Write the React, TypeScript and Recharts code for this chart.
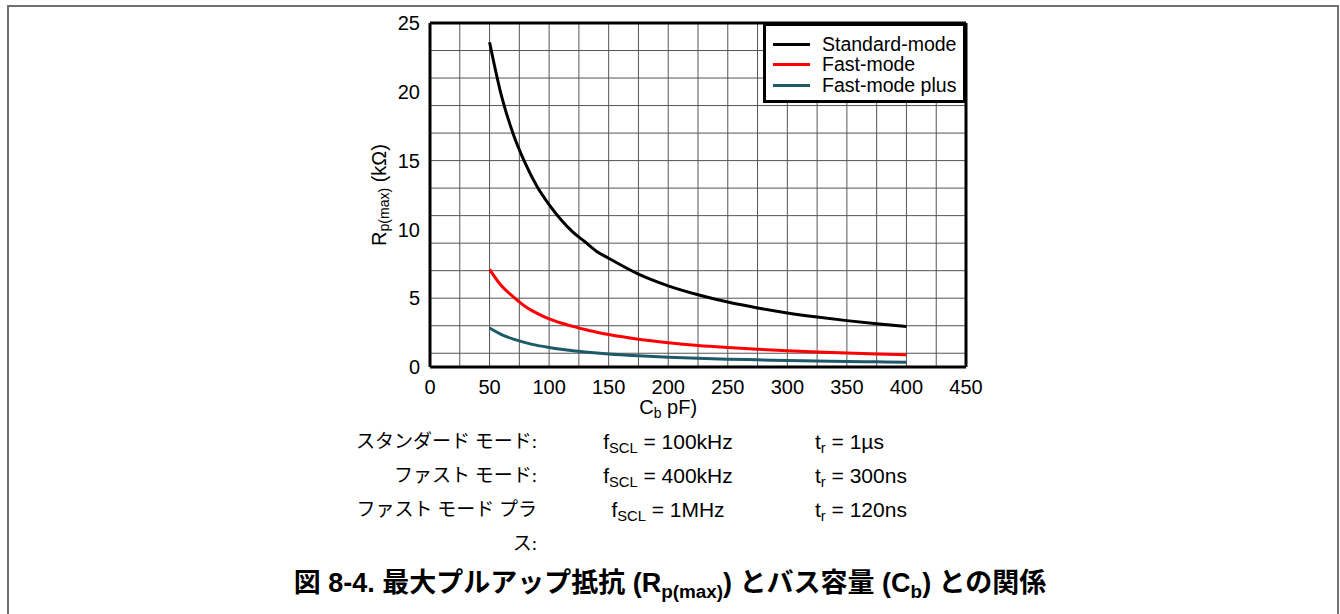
import React from "react";
import { LineChart, Line, XAxis, YAxis, CartesianGrid, ReferenceLine, Legend, Label } from "recharts";

// bus capacitance (pF) and max pull-up resistance (kΩ)
const capacitance = [50, 60, 70, 80, 90, 100, 110, 120, 130, 140, 150, 175, 200, 225, 250, 275, 300, 325, 350, 375, 400];
const standardMode = [23.6, 19.7, 16.9, 14.8, 13.1, 11.8, 10.7, 9.8, 9.1, 8.4, 7.9, 6.75, 5.9, 5.25, 4.72, 4.29, 3.93, 3.63, 3.37, 3.15, 2.95];
const fastMode = [7.1, 5.9, 5.1, 4.4, 3.9, 3.5, 3.2, 2.95, 2.72, 2.53, 2.36, 2.02, 1.77, 1.57, 1.42, 1.29, 1.18, 1.09, 1.01, 0.94, 0.89];
const fastModePlus = [2.83, 2.36, 2.02, 1.77, 1.57, 1.42, 1.29, 1.18, 1.09, 1.01, 0.94, 0.81, 0.71, 0.63, 0.57, 0.52, 0.47, 0.44, 0.4, 0.38, 0.35];

const seriesKeys = ["standard", "fast", "fastPlus"];
const seriesNames = ["Standard-mode", "Fast-mode", "Fast-mode plus"];
const seriesColors = ["#000000", "#ff0000", "#1c5a69"];

const xTicks = [0, 50, 100, 150, 200, 250, 300, 350, 400, 450];
const yTicks = [0, 5, 10, 15, 20, 25];
const xGrid = [0, 25, 50, 75, 100, 125, 150, 175, 200, 225, 250, 275, 300, 325, 350, 375, 400, 425, 450];
const yGrid = [0, 1, 2, 3, 4, 5, 6, 7, 8, 9, 10, 11, 12, 13, 14, 15, 16, 17, 18, 19, 20, 21, 22, 23, 24, 25];

const modeLabels = ["スタンダード モード:", "ファスト モード:", "ファスト モード プラ\nス:"];
const fsclValues = ["100kHz", "400kHz", "1MHz"];
const trValues = ["1µs", "300ns", "120ns"];

const data = capacitance.map((cb, i) => ({
    cb,
    standard: standardMode[i],
    fast: fastMode[i],
    fastPlus: fastModePlus[i],
}));

const SANS = '"Liberation Sans", Arial, sans-serif';
const JP = '"Liberation Serif", "Noto Sans CJK JP", serif';

const YTitle = (props: any) => {
    const { viewBox } = props;
    const cx = viewBox.x + 9;
    const cy = viewBox.y + viewBox.height / 2;
    return (
        <text x={cx} y={cy} transform={`rotate(-90, ${cx}, ${cy})`} textAnchor="middle" dominantBaseline="central"
            fontFamily={SANS} fontSize={20} fill="#000">
            R<tspan fontSize={14} dy={5}>p(max)</tspan><tspan dy={-5}> (kΩ)</tspan>
        </text>
    );
};

const XTitle = (props: any) => {
    const { viewBox } = props;
    const cx = viewBox.x + (viewBox.width * 400) / 450 / 2;
    const y = viewBox.y + 47;
    return (
        <text x={cx} y={y} textAnchor="middle" fontFamily={SANS} fontSize={20} fill="#000">
            C<tspan fontSize={14} dy={4}>b</tspan><tspan dy={-4}> pF)</tspan>
        </text>
    );
};

const LegendBox = () => (
    <div style={{
        border: "3px solid #000", background: "#fff", boxSizing: "border-box", width: 203, height: 80,
        padding: "8px 0 0 7px", fontFamily: SANS, fontSize: 19.5, color: "#000", textAlign: "left",
    }}>
        {seriesNames.map((name, i) => (
            <div key={name} style={{ display: "flex", alignItems: "center", height: 20.5 }}>
                <span style={{ display: "inline-block", width: 37, height: 3, background: seriesColors[i], marginRight: 12 }} />
                <span>{name}</span>
            </div>
        ))}
    </div>
);

const Sub = ({ children }: { children: React.ReactNode }) => (
    <span style={{ fontSize: "0.7em", verticalAlign: "-0.3em", lineHeight: 0 }}>{children}</span>
);

export default function App() {
    return (
        <div style={{ position: "absolute", left: 0, top: 0, width: 1340, height: 614, overflow: "hidden", background: "#fff" }}>
            <div style={{
                position: "absolute", left: 7, top: 5, width: 1332, height: 609, boxSizing: "border-box",
                borderTop: "2px solid #707070", borderLeft: "2px solid #707070", borderRight: "2px solid #707070",
            }} />
            <div style={{ position: "absolute", left: 0, top: 0 }}>
                <LineChart width={1340} height={430} data={data} margin={{ top: 23, right: 374, left: 370, bottom: 23 }}>
                    <CartesianGrid stroke="#555" strokeWidth={1} horizontalValues={yGrid} verticalValues={xGrid} />
                    <XAxis type="number" dataKey="cb" domain={[0, 450]} ticks={xTicks} height={40}
                        tickLine={false} tickMargin={7} axisLine={{ stroke: "#000", strokeWidth: 3 }}
                        tick={{ fill: "#000", fontSize: 20, fontFamily: SANS }}>
                        <Label content={XTitle} />
                    </XAxis>
                    <YAxis type="number" domain={[0, 25]} ticks={yTicks} width={60}
                        tickLine={false} tickMargin={4} axisLine={{ stroke: "#000", strokeWidth: 3 }}
                        tick={{ fill: "#000", fontSize: 20, fontFamily: SANS }}>
                        <Label content={YTitle} />
                    </YAxis>
                    <ReferenceLine y={25} stroke="#000" strokeWidth={3} />
                    <ReferenceLine x={450} stroke="#000" strokeWidth={3} />
                    {seriesKeys.map((key, i) => (
                        <Line key={key} type="monotone" dataKey={key} name={seriesNames[i]} stroke={seriesColors[i]}
                            strokeWidth={3} dot={false} isAnimationActive={false} />
                    ))}
                    <Legend verticalAlign="middle" align="center" content={LegendBox}
                        wrapperStyle={{ left: 763, top: 23, width: 203, height: 80 }} />
                </LineChart>
            </div>
            {modeLabels.map((label, i) => (
                <React.Fragment key={label}>
                    <div style={{
                        position: "absolute", left: 300, width: 237, top: 425 + i * 34, lineHeight: "34px",
                        textAlign: "right", fontFamily: JP, fontSize: 19, color: "#000", whiteSpace: "pre-line",
                    }}>{label}</div>
                    <div style={{
                        position: "absolute", left: 568, width: 200, top: 425 + i * 34, lineHeight: "34px",
                        textAlign: "center", fontFamily: SANS, fontSize: 21, color: "#000",
                    }}>f<Sub>SCL</Sub> = {fsclValues[i]}</div>
                    <div style={{
                        position: "absolute", left: 815, top: 425 + i * 34, lineHeight: "34px",
                        fontFamily: SANS, fontSize: 21, color: "#000", whiteSpace: "nowrap",
                    }}>t<Sub>r</Sub> = {trValues[i]}</div>
                </React.Fragment>
            ))}
            <div style={{
                position: "absolute", left: 0, width: 1340, top: 566, textAlign: "center",
                fontFamily: '"Liberation Sans Narrow", "Liberation Sans", "Noto Sans CJK JP", sans-serif',
                fontSize: 27, fontWeight: "bold", color: "#000", lineHeight: "34px",
            }}>
                図 8-4. 最大プルアップ抵抗 (R<Sub>p(max)</Sub>) とバス容量 (C<Sub>b</Sub>) との関係
            </div>
        </div>
    );
}
